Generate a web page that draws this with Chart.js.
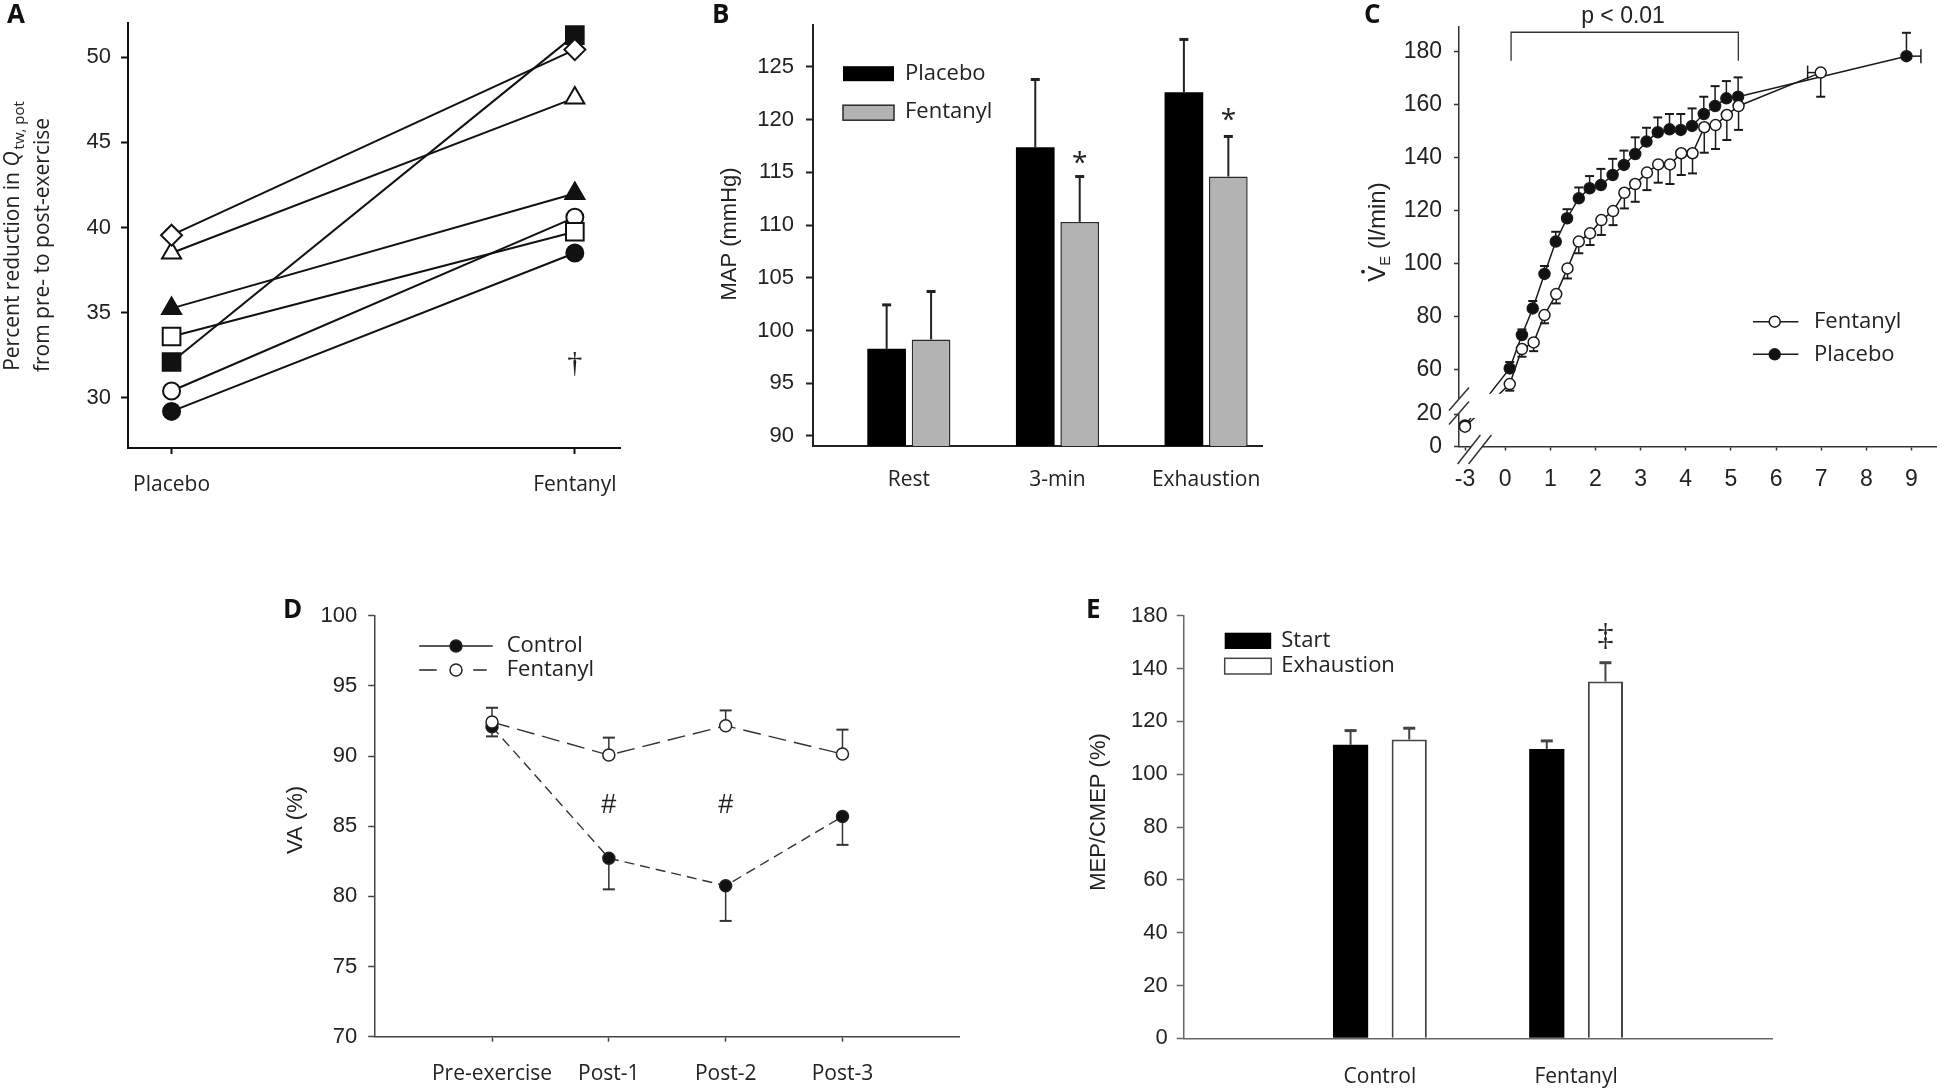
<!DOCTYPE html>
<html>
<head>
<meta charset="utf-8">
<script src="https://cdn.jsdelivr.net/npm/chart.js@4.4.1/dist/chart.umd.min.js"></script>
<style>
  html, body { margin: 0; padding: 0; background: #fff; }
  body { width: 1950px; height: 1091px; position: relative; overflow: hidden; }
  canvas { position: absolute; left: 0; top: 0; pointer-events: none; }
</style>
</head>
<body>
<canvas id="cA" width="1950" height="1091"></canvas>
<canvas id="cB" width="1950" height="1091"></canvas>
<canvas id="cC" width="1950" height="1091"></canvas>
<canvas id="cD" width="1950" height="1091"></canvas>
<canvas id="cE" width="1950" height="1091"></canvas>
<script>
// ---- A: individual subjects ----
const aGroups = ['Placebo', 'Fentanyl'];
const aPlacebo  = [39.55, 38.5, 35.25, 33.6, 32.1, 30.4, 29.2];
const aFentanyl = [50.45, 47.6, 42.0, 39.75, 51.3, 40.6, 38.5];
const aShapes = ['rectRot', 'triangle', 'triangle', 'rect', 'rect', 'circle', 'circle'];
const aFilled = [false, false, true, false, true, false, true];
const aYTicks = [30, 35, 40, 45, 50];

// ---- B: MAP ----
const bCats = ['Rest', '3-min', 'Exhaustion'];
const bPlacebo = [98.26, 117.37, 122.6];
const bPlaceboErr = [4.17, 6.43, 5.0];
const bFentanyl = [99.15, 110.3, 114.6];
const bFentanylErr = [4.55, 4.3, 3.8];
const bYTicks = [90, 95, 100, 105, 110, 115, 120, 125];

// ---- C: ventilation over time ----
const cPlaceboT = [-3, 0.10, 0.37, 0.61, 0.87, 1.12, 1.37, 1.63, 1.87, 2.12, 2.38, 2.63, 2.88, 3.13, 3.38, 3.64, 3.89, 4.14, 4.40, 4.65, 4.90, 5.16, 8.89];
const cPlacebo  = [13, 60.6, 73.2, 83.2, 96.2, 108.4, 117.2, 124.7, 128.5, 129.7, 133.5, 137.3, 141.4, 146.1, 149.6, 150.7, 150.5, 152.0, 156.5, 159.5, 162.4, 163.0, 178.3];
const cPlaceboErr = [0, 2.4, 2.1, 2.8, 3.0, 3.7, 3.4, 4.1, 4.6, 6.1, 6.1, 5.4, 6.3, 5.2, 5.6, 5.8, 6.0, 6.6, 6.5, 7.5, 6.5, 7.3, 8.8];
const cFentanylT = [-3, 0.10, 0.37, 0.63, 0.87, 1.13, 1.38, 1.63, 1.88, 2.13, 2.39, 2.64, 2.88, 3.14, 3.39, 3.65, 3.90, 4.15, 4.41, 4.66, 4.91, 5.17, 6.99];
const cFentanyl  = [12.2, 54.7, 67.9, 70.4, 80.7, 88.6, 98.3, 108.4, 111.5, 116.5, 119.9, 126.8, 130.1, 134.4, 137.5, 137.5, 141.7, 141.7, 151.5, 152.3, 156.1, 159.5, 172.1];
const cFentanylErr = [0, 2.5, 2.9, 3.3, 3.1, 3.5, 3.8, 4.4, 4.4, 5.6, 5.3, 5.9, 6.7, 6.6, 6.9, 7.4, 8.2, 7.6, 9.6, 9.0, 9.4, 9.0, 9.1];
const cTimeErrLast = [0.32, 0.29];   // placebo (right), fentanyl (left)
const cXTicks = [-3, 0, 1, 2, 3, 4, 5, 6, 7, 8, 9];
const cYTicks = [0, 20, 60, 80, 100, 120, 140, 160, 180];

// ---- D: voluntary activation ----
const dCats = ['Pre-exercise', 'Post-1', 'Post-2', 'Post-3'];
const dControl = [92.09, 82.72, 80.76, 85.69];
const dControlErr = [0.69, 2.22, 2.51, 2.02];
const dFentanyl = [92.42, 90.07, 92.16, 90.14];
const dFentanylErr = [1.02, 1.24, 1.09, 1.74];
const dYTicks = [70, 75, 80, 85, 90, 95, 100];

// ---- E: MEP/CMEP ----
const eCats = ['Control', 'Fentanyl'];
const eStart = [111.1, 109.5];
const eStartErr = [5.4, 3.1];
const eExh = [113.1, 135.1];
const eExhErr = [4.3, 7.1];
const eYTicks = [0, 20, 40, 60, 80, 100, 120, 140, 160];
const eYLabels = ['0', '20', '40', '60', '80', '100', '120', '140', '180'];

const W = 1950, H = 1091;
const INK = '#111';
const NUM = { family: 'Liberation Sans', size: 22 };
const CAT = { family: 'Open Sans', size: 21 };

// axis breaks for panel C
function warpY(v) { return v >= 43.41 ? v : (v <= 20 ? 31.16 + v * 0.6125 : 43.41); }
function warpX(v) { return v >= 0 ? v : v * 0.297; }
class BrokenX extends Chart.LinearScale {
  getPixelForValue(v) { return super.getPixelForValue(warpX(v)); }
}
BrokenX.id = 'brokenX';
BrokenX.defaults = Chart.LinearScale.defaults;
class BrokenY extends Chart.LinearScale {
  getPixelForValue(v) { return super.getPixelForValue(warpY(v)); }
}
BrokenY.id = 'brokenY';
BrokenY.defaults = Chart.LinearScale.defaults;
Chart.register(BrokenX, BrokenY);

function axis(o) {
  return {
    type: o.type || 'linear', bounds: 'data', offset: false,
    min: o.min, max: o.max,
    afterBuildTicks: s => { s.ticks = o.ticks.map(v => ({ value: v })); },
    afterFit: o.fit,
    grid: { display: true, offset: false, drawOnChartArea: false, drawTicks: o.tickLen > 0,
            tickLength: o.tickLen, tickWidth: o.width, color: o.color },
    border: { display: true, color: o.color, width: o.width },
    ticks: { padding: o.pad, font: o.font || NUM, color: '#222', maxRotation: 0, autoSkip: false,
             callback: (v, i) => o.labels ? o.labels[i] : String(v) }
  };
}
function xAxis(area, o) { return axis(Object.assign({ fit: s => { s.height = H - area[3]; } }, o)); }
function yAxis(area, o) { return axis(Object.assign({ fit: s => { s.width = area[0]; } }, o)); }

function options(area, x, y, extra) {
  return Object.assign({
    responsive: false, animation: false, devicePixelRatio: 1, events: [],
    layout: { autoPadding: false, padding: { left: 0, top: area[1], right: W - area[2], bottom: 0 } },
    plugins: { legend: { display: false }, tooltip: { enabled: false } },
    scales: { x, y }
  }, extra || {});
}

function text(ctx, s, x, y, font, o = {}) {
  ctx.save();
  ctx.font = font;
  ctx.fillStyle = o.color || '#222';
  ctx.textAlign = o.align || 'center';
  ctx.textBaseline = o.base || 'middle';
  ctx.translate(x, y);
  if (o.rot) ctx.rotate(o.rot);
  ctx.fillText(s, 0, 0);
  ctx.restore();
}
function seg(ctx, x1, y1, x2, y2) { ctx.beginPath(); ctx.moveTo(x1, y1); ctx.lineTo(x2, y2); ctx.stroke(); }
function dot(ctx, x, y, r, fill, stroke, lw) {
  ctx.beginPath(); ctx.arc(x, y, r, 0, Math.PI * 2);
  ctx.fillStyle = fill; ctx.fill();
  ctx.lineWidth = lw; ctx.strokeStyle = stroke; ctx.stroke();
}
// vertical error bars read from the dataset elements
function vErr(chart, ds, values, errs, dir, st) {
  const ctx = chart.ctx, ys = chart.scales.y;
  ctx.save();
  ctx.strokeStyle = st.color;
  chart.getDatasetMeta(ds).data.forEach((el, i) => {
    if (!errs[i]) return;
    const y0 = ys.getPixelForValue(values[i]);
    const y1 = ys.getPixelForValue(values[i] + dir * errs[i]);
    ctx.lineWidth = st.width; seg(ctx, el.x, y0, el.x, y1);
    ctx.lineWidth = st.capWidth; seg(ctx, el.x - st.cap, y1, el.x + st.cap, y1);
  });
  ctx.restore();
}
function letter(ctx, s, x, y) { text(ctx, s, x, y, 'bold 26px "Open Sans"', { align: 'left', base: 'alphabetic', color: '#111' }); }

// ================= A =================
const aArea = [128, 23, 620, 448];
const aRadius = { rectRot: 10.5, triangle: 11, rect: 12.5, circle: 8.5 };
new Chart(document.getElementById('cA'), {
  type: 'line',
  data: {
    datasets: aPlacebo.map((p, i) => ({
      data: [{ x: 0, y: p }, { x: 1, y: aFentanyl[i] }],
      borderColor: INK, borderWidth: 2,
      pointStyle: aShapes[i], pointRadius: aRadius[aShapes[i]],
      pointBackgroundColor: aFilled[i] ? INK : '#fff',
      pointBorderColor: INK, pointBorderWidth: 2
    }))
  },
  options: options(aArea,
    xAxis(aArea, { min: -0.108, max: 1.112, ticks: [0, 1], labels: aGroups, tickLen: 6, pad: 18, width: 2, color: INK, font: CAT }),
    yAxis(aArea, { min: 27.05, max: 52, ticks: aYTicks, tickLen: 7, pad: 10, width: 2, color: INK })),
  plugins: [{
    id: 'panelA',
    afterDraw(chart) {
      const { ctx, scales: { x, y } } = chart;
      letter(ctx, 'A', 7, 23);
      text(ctx, '\u2020', x.getPixelForValue(1), y.getPixelForValue(32.0), '30px "Liberation Serif"');
      // rotated two-line axis title with subscript
      ctx.save();
      ctx.translate(0, 236);
      ctx.rotate(-Math.PI / 2);
      ctx.fillStyle = '#222';
      ctx.textBaseline = 'alphabetic';
      ctx.textAlign = 'left';
      const parts = [['Percent reduction in ', '21px "Open Sans"', 0], ['Q', 'italic 21px "Open Sans"', 0], ['tw, pot', '15px "Open Sans"', 5]];
      let total = 0;
      parts.forEach(p => { ctx.font = p[1]; total += ctx.measureText(p[0]).width + (p[2] ? 2 : 0); });
      let fx = -total / 2;
      parts.forEach(p => { ctx.font = p[1]; if (p[2]) fx += 2; ctx.fillText(p[0], fx, 19 + p[2]); fx += ctx.measureText(p[0]).width; });
      ctx.font = '21px "Open Sans"';
      ctx.textAlign = 'center';
      ctx.fillText('from pre- to post-exercise', -9, 49);
      ctx.restore();
    }
  }]
});

// ================= B =================
const bArea = [813, 25, 1262, 446];
new Chart(document.getElementById('cB'), {
  type: 'bar',
  data: {
    datasets: [
      { data: bPlacebo.map((v, i) => ({ x: i, y: v })), backgroundColor: '#000', borderWidth: 0 },
      { data: bFentanyl.map((v, i) => ({ x: i, y: v })), backgroundColor: '#b3b3b3', borderColor: '#2a2a2a', borderWidth: 1.5 }
    ]
  },
  options: options(bArea,
    xAxis(bArea, { min: -0.645, max: 2.376, ticks: [0, 1, 2], labels: bCats, tickLen: 0, pad: 21, width: 2, color: '#222', font: CAT }),
    yAxis(bArea, { min: 89.05, max: 128.95, ticks: bYTicks, tickLen: 7, pad: 12, width: 2, color: '#222' }),
    { datasets: { bar: { categoryPercentage: 0.598, barPercentage: 0.87 } } }),
  plugins: [{
    id: 'panelB',
    afterDatasetsDraw(chart) {
      const st = { color: '#222', width: 2, capWidth: 3, cap: 4.5 };
      vErr(chart, 0, bPlacebo, bPlaceboErr, 1, st);
      vErr(chart, 1, bFentanyl, bFentanylErr, 1, st);
    },
    afterDraw(chart) {
      const { ctx, chartArea: ca, scales: { y } } = chart;
      letter(ctx, 'B', 712, 23);
      text(ctx, 'MAP (mmHg)', 730, 234, '22px "Liberation Sans"', { rot: -Math.PI / 2 });
      const fen = chart.getDatasetMeta(1).data;
      text(ctx, '*', fen[1].x, y.getPixelForValue(116.4) + 14, '28px "Open Sans"', { base: 'alphabetic' });
      text(ctx, '*', fen[2].x, y.getPixelForValue(120.4) + 14, '28px "Open Sans"', { base: 'alphabetic' });
      // legend
      ctx.save();
      ctx.fillStyle = '#000';
      ctx.fillRect(ca.left + 30, ca.top + 41, 51, 15);
      ctx.fillStyle = '#b3b3b3';
      ctx.fillRect(ca.left + 30, ca.top + 80, 51, 15);
      ctx.strokeStyle = '#2a2a2a'; ctx.lineWidth = 1.5;
      ctx.strokeRect(ca.left + 30, ca.top + 80, 51, 15);
      ctx.restore();
      text(ctx, 'Placebo', ca.left + 92, ca.top + 49, '22px "Open Sans"', { align: 'left' });
      text(ctx, 'Fentanyl', ca.left + 92, ca.top + 87, '22px "Open Sans"', { align: 'left' });
    }
  }]
});

// ================= C =================
const cArea = [1459, 26.7, 1936.7, 446.5];
const cLine = { borderColor: '#1a1a1a', borderWidth: 1.5, pointRadius: 5.5, pointBorderColor: '#1a1a1a', pointBorderWidth: 1.5 };
new Chart(document.getElementById('cC'), {
  type: 'line',
  data: {
    datasets: [
      Object.assign({ data: cFentanylT.map((t, i) => ({ x: t, y: cFentanyl[i] })), pointBackgroundColor: '#fff' }, cLine),
      Object.assign({ data: cPlaceboT.map((t, i) => ({ x: t, y: cPlacebo[i] })), pointBackgroundColor: '#111' }, cLine)
    ]
  },
  options: options(cArea,
    Object.assign(xAxis(cArea, { min: -1.024, max: 9.56, ticks: cXTicks, tickLen: 4, pad: 15, width: 1.5, color: '#333', font: { family: 'Liberation Sans', size: 23 } }), { type: 'brokenX' }),
    Object.assign(yAxis(cArea, { min: 31.16, max: 189.4, ticks: cYTicks, tickLen: 5, pad: 12, width: 1.5, color: '#333', font: { family: 'Liberation Sans', size: 23 } }), { type: 'brokenY' })),
  plugins: [{
    id: 'panelC',
    beforeDatasetsDraw(chart) {
      const st = { color: '#1a1a1a', width: 1.5, capWidth: 2, cap: 4.5 };
      vErr(chart, 1, cPlacebo, cPlaceboErr, 1, st);
      vErr(chart, 0, cFentanyl, cFentanylErr, -1, st);
      const { ctx, scales: { x, y } } = chart;
      // horizontal error bars of the final points
      const pl = chart.getDatasetMeta(1).data[cPlacebo.length - 1];
      const fe = chart.getDatasetMeta(0).data[cFentanyl.length - 1];
      ctx.save();
      ctx.strokeStyle = st.color; ctx.lineWidth = 1.5;
      const px = x.getPixelForValue(cPlaceboT[cPlaceboT.length - 1] + cTimeErrLast[0]);
      seg(ctx, pl.x, pl.y, px, pl.y); seg(ctx, px, pl.y - 7, px, pl.y + 7);
      const fx = x.getPixelForValue(cFentanylT[cFentanylT.length - 1] - cTimeErrLast[1]);
      seg(ctx, fe.x, fe.y, fx, fe.y); seg(ctx, fx, fe.y - 7, fx, fe.y + 7);
      ctx.restore();
      // hide the connecting lines inside the axis break
      const ca = chart.chartArea;
      const top = y.getPixelForValue(51), bot = y.getPixelForValue(20) + 4, right = x.getPixelForValue(0) - 2;
      ctx.save();
      ctx.beginPath();
      ctx.rect(0, 0, W, H);
      ctx.rect(ca.left - 10, top, right - ca.left + 10, bot - top);
      ctx.clip('evenodd');
    },
    afterDatasetsDraw(chart) { chart.ctx.restore(); },
    afterDraw(chart) {
      const { ctx, chartArea: ca, scales: { x, y } } = chart;
      letter(ctx, 'C', 1364, 23);
      // axis break marks
      const yb = y.getPixelForValue(20) - 8;
      const xb = x.getPixelForValue(-3) + 9.5;
      ctx.save();
      ctx.fillStyle = '#fff';
      ctx.fillRect(ca.left - 3, yb - 7, 6, 14);
      ctx.fillRect(xb - 3.5, ca.bottom - 3, 11, 6);
      ctx.strokeStyle = '#333'; ctx.lineWidth = 1.5;
      [-7, 7].forEach(d => seg(ctx, ca.left - 10, yb + d + 11.4, ca.left + 10, yb + d - 11.4));
      [-5.5, 5.5].forEach(d => seg(ctx, xb + d - 11.4, ca.bottom + 17.5, xb + d + 11.4, ca.bottom - 11.5));
      // significance bracket
      const bx1 = x.getPixelForValue(0.13), bx2 = x.getPixelForValue(5.165);
      const by = y.getPixelForValue(187.3), bd = y.getPixelForValue(176.6);
      ctx.lineWidth = 1.3;
      ctx.beginPath(); ctx.moveTo(bx1, bd); ctx.lineTo(bx1, by); ctx.lineTo(bx2, by); ctx.lineTo(bx2, bd); ctx.stroke();
      ctx.restore();
      text(ctx, 'p < 0.01', x.getPixelForValue(2.61), y.getPixelForValue(193.3), '23px "Liberation Sans"');
      // legend
      ctx.save();
      ctx.strokeStyle = '#1a1a1a'; ctx.lineWidth = 1.5;
      [[295, '#fff', 'Fentanyl'], [327.6, '#111', 'Placebo']].forEach(k => {
        seg(ctx, ca.left + 294, ca.top + k[0], ca.left + 339.4, ca.top + k[0]);
        dot(ctx, ca.left + 315.7, ca.top + k[0], 5.5, k[1], '#1a1a1a', 1.5);
        text(ctx, k[2], ca.left + 355, ca.top + k[0], '22px "Open Sans"', { align: 'left' });
      });
      ctx.restore();
      // rotated axis title: V-dot with subscript E
      ctx.save();
      ctx.translate(1377, 232);
      ctx.rotate(-Math.PI / 2);
      ctx.fillStyle = '#222';
      ctx.textBaseline = 'alphabetic'; ctx.textAlign = 'left';
      ctx.font = '24px "Liberation Sans"';
      const wV = ctx.measureText('V').width, wR = ctx.measureText(' (l/min)').width;
      ctx.font = '15px "Liberation Sans"';
      const wE = ctx.measureText('E').width;
      let fx = -(wV + wE + wR) / 2;
      ctx.font = '24px "Liberation Sans"';
      ctx.fillText('V', fx, 8);
      ctx.beginPath(); ctx.arc(fx + wV / 2 + 2, 8 - 22, 1.9, 0, Math.PI * 2); ctx.fill();
      ctx.font = '15px "Liberation Sans"';
      ctx.fillText('E', fx + wV, 13);
      ctx.font = '24px "Liberation Sans"';
      ctx.fillText(' (l/min)', fx + wV + wE, 8);
      ctx.restore();
    }
  }]
});

// ================= D =================
const dArea = [375.2, 615.7, 959.3, 1036.7];
const dPoint = { pointRadius: 6, pointBorderColor: '#222', pointBorderWidth: 1.5, borderColor: '#333', borderWidth: 1.4 };
new Chart(document.getElementById('cD'), {
  type: 'line',
  data: {
    datasets: [
      Object.assign({ data: dFentanyl.map((v, i) => ({ x: i + 1, y: v })), pointBackgroundColor: '#fff', borderDash: [18, 8] }, dPoint),
      Object.assign({ data: dControl.map((v, i) => ({ x: i + 1, y: v })), pointBackgroundColor: '#111', borderDash: [10, 6] }, dPoint)
    ]
  },
  options: options(dArea,
    xAxis(dArea, { min: 0, max: 5, ticks: [1, 2, 3, 4], labels: dCats, tickLen: 5, pad: 20, width: 1.5, color: '#444', font: CAT }),
    yAxis(dArea, { min: 70, max: 100, ticks: dYTicks, tickLen: 7, pad: 11, width: 1.5, color: '#444' })),
  plugins: [{
    id: 'panelD',
    beforeDatasetsDraw(chart) {
      const st = { color: '#333', width: 1.5, capWidth: 2, cap: 6 };
      vErr(chart, 1, dControl, dControlErr, -1, st);
      vErr(chart, 0, dFentanyl, dFentanylErr, 1, st);
    },
    afterDraw(chart) {
      const { ctx, chartArea: ca, scales: { x, y } } = chart;
      letter(ctx, 'D', 283, 618);
      text(ctx, 'VA (%)', 296, 820, '22px "Liberation Sans"', { rot: -Math.PI / 2 });
      [2, 3].forEach(c => text(ctx, '#', x.getPixelForValue(c), y.getPixelForValue(86.5), '27px "Liberation Sans"'));
      ctx.save();
      ctx.strokeStyle = '#222'; ctx.lineWidth = 1.5;
      seg(ctx, ca.left + 44, ca.top + 30.3, ca.left + 117.5, ca.top + 30.3);
      dot(ctx, ca.left + 80.8, ca.top + 30.3, 6, '#111', '#222', 1.5);
      seg(ctx, ca.left + 44, ca.top + 54.3, ca.left + 61.5, ca.top + 54.3);
      seg(ctx, ca.left + 98, ca.top + 54.3, ca.left + 111.5, ca.top + 54.3);
      dot(ctx, ca.left + 80.8, ca.top + 54.3, 6, '#fff', '#222', 1.5);
      ctx.restore();
      text(ctx, 'Control', ca.left + 131.5, ca.top + 30.3, '22px "Open Sans"', { align: 'left' });
      text(ctx, 'Fentanyl', ca.left + 131.5, ca.top + 54.3, '22px "Open Sans"', { align: 'left' });
    }
  }]
});

// ================= E =================
const eArea = [1183.7, 615.7, 1772.3, 1038.3];
new Chart(document.getElementById('cE'), {
  type: 'bar',
  data: {
    datasets: [
      { data: eStart.map((v, i) => ({ x: i + 1, y: v })), backgroundColor: '#000', borderWidth: 0 },
      { data: eExh.map((v, i) => ({ x: i + 1, y: v })), backgroundColor: '#fff', borderColor: '#444', borderWidth: 2 }
    ]
  },
  options: options(eArea,
    xAxis(eArea, { min: 0, max: 3, ticks: [1, 2], labels: eCats, tickLen: 0, pad: 26, width: 1.5, color: '#666', font: CAT }),
    yAxis(eArea, { min: 0, max: 160, ticks: eYTicks, labels: eYLabels, tickLen: 7, pad: 9, width: 1.5, color: '#666' }),
    { datasets: { bar: { categoryPercentage: 0.598, barPercentage: 0.60 } } }),
  plugins: [{
    id: 'panelE',
    afterDatasetsDraw(chart) {
      const st = { color: '#444', width: 2, capWidth: 3, cap: 6 };
      vErr(chart, 0, eStart, eStartErr, 1, st);
      vErr(chart, 1, eExh, eExhErr, 1, st);
    },
    afterDraw(chart) {
      const { ctx, chartArea: ca, scales: { y } } = chart;
      letter(ctx, 'E', 1086, 618);
      text(ctx, 'MEP/CMEP (%)', 1099, 812, '22px "Liberation Sans"', { rot: -Math.PI / 2 });
      const exh = chart.getDatasetMeta(1).data;
      text(ctx, '\u2021', exh[1].x, y.getPixelForValue(152), '32px "Liberation Serif"');
      ctx.save();
      ctx.fillStyle = '#000';
      ctx.fillRect(ca.left + 41, ca.top + 17, 46.5, 16.3);
      ctx.strokeStyle = '#444'; ctx.lineWidth = 1.5;
      ctx.strokeRect(ca.left + 41, ca.top + 42.6, 46.5, 15.7);
      ctx.restore();
      text(ctx, 'Start', ca.left + 97.6, ca.top + 25, '22px "Open Sans"', { align: 'left' });
      text(ctx, 'Exhaustion', ca.left + 97.6, ca.top + 50.5, '22px "Open Sans"', { align: 'left' });
    }
  }]
});
</script>
</body>
</html>
